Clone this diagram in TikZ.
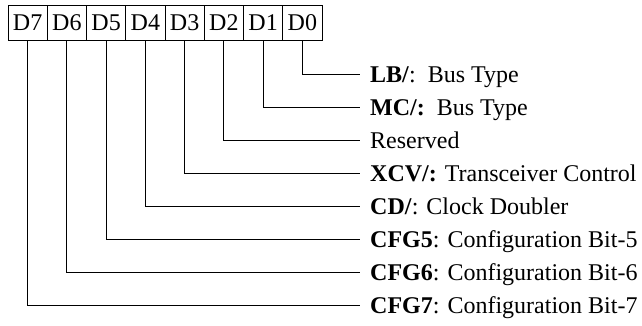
\documentclass[tikz,border=0pt]{standalone}
\usepackage{fontspec}
\setmainfont{Liberation Serif}
\usetikzlibrary{positioning}
\tikzset{
  bitbox/.style   = {draw,line width=0.8pt,outer sep=0pt,inner sep=0pt,
                     minimum width=39.25pt,minimum height=35pt,
                     font=\fontsize{24}{27}\selectfont},
  bitlabel/.style = {anchor=west,inner xsep=10pt,inner ysep=0pt,
                     text height=17pt,text depth=0pt,
                     font=\fontsize{24}{27}\selectfont},
  leadline/.style = {line width=0.8pt}
}

\begin{document}
\begin{tikzpicture}[x=1pt,y=-1pt]
  \useasboundingbox (0,0) rectangle (642,326);
  % the register, D7 on the left
  \node[bitbox] (d7) at (27.6,23) {D7};
  \foreach \i [remember=\i as \prev (initially 7)] in {6,...,0}
    \node[bitbox,right=0pt of d\prev] (d\i) {D\i};
  % what each bit means
  \foreach \i/\txt in {0/{\textbf{LB/}:\ \ Bus Type},
                       1/{\textbf{MC/:}\ \ Bus Type},
                       2/{Reserved},
                       3/{\textbf{XCV/:} Transceiver Control},
                       4/{\textbf{CD/}: Clock Doubler},
                       5/{\textbf{CFG5}: Configuration Bit-5},
                       6/{\textbf{CFG6}: Configuration Bit-6},
                       7/{\textbf{CFG7}: Configuration Bit-7}}
  {
    \node[bitlabel] (l\i) at (360,{74+33*\i}) {\txt};
    \draw[leadline] (d\i.south) |- (l\i.west);
  }
\end{tikzpicture}
\end{document}
